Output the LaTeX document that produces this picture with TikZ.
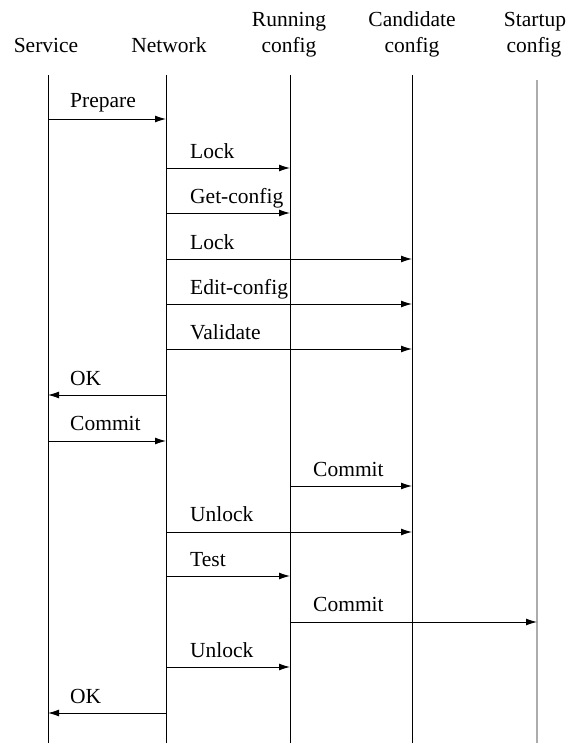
\documentclass[tikz,border=0pt]{standalone}
\usepackage{fontspec}
\setmainfont{Liberation Serif}
\usetikzlibrary{arrows.meta}
\begin{document}
\begin{tikzpicture}[x=1pt,y=-1pt,
  font=\fontsize{21.5}{26}\selectfont,
  lifeline/.style={line width=0.9pt,black},
  msgline/.style={line width=1pt,-{Latex[length=11pt,width=7pt]}},
  msglabel/.style={anchor=base west,inner sep=0pt},
  header/.style={anchor=base,inner sep=0pt,align=center}]
\useasboundingbox (0,0) rectangle (568,744);

% column headers
\node[header] (hsvc) at (46,52) {Service};
\node[header] (hnet) at (169,52) {Network};
\node[header] (hrun) at (289,52) {config};
\node[header] (hrun2) at (289,27) {Running};
\node[header] (hcand) at (412,52) {config};
\node[header] (hcand2) at (412,27) {Candidate};
\node[header] (hstart) at (534,52) {config};
\node[header] (hstart2) at (535,27) {Startup};

% lifelines
\coordinate (svcT) at (48,75);   \coordinate (svcB) at (48,743);
\coordinate (netT) at (166,75);  \coordinate (netB) at (166,743);
\coordinate (runT) at (290,75);  \coordinate (runB) at (290,743);
\coordinate (candT) at (412,75); \coordinate (candB) at (412,743);
\coordinate (stT) at (537,80);   \coordinate (stB) at (537,743);
\draw[lifeline] (svcT) -- (svcB);
\draw[lifeline] (netT) -- (netB);
\draw[lifeline] (runT) -- (runB);
\draw[lifeline] (candT) -- (candB);
\draw[line width=2.2pt,gray!65] (stT) -- (stB);

% messages
\draw[msgline] (svcT |- 0,119) -- (netT |- 0,119);
\node[msglabel] (l1) at (70,107) {Prepare};

\draw[msgline] (netT |- 0,168) -- (runT |- 0,168);
\node[msglabel] (l2) at (190,158) {Lock};

\draw[msgline] (netT |- 0,213) -- (runT |- 0,213);
\node[msglabel] (l3) at (190,203) {Get-config};

\draw[msgline] (netT |- 0,259) -- (candT |- 0,259);
\node[msglabel] (l4) at (190,249) {Lock};

\draw[msgline] (netT |- 0,304) -- (candT |- 0,304);
\node[msglabel] (l5) at (190,294) {Edit-config};

\draw[msgline] (netT |- 0,349) -- (candT |- 0,349);
\node[msglabel] (l6) at (190,339) {Validate};

\draw[msgline] (netT |- 0,395) -- (svcT |- 0,395);
\node[msglabel] (l7) at (70,385) {OK};

\draw[msgline] (svcT |- 0,441) -- (netT |- 0,441);
\node[msglabel] (l8) at (70,430) {Commit};

\draw[msgline] (runT |- 0,486) -- (candT |- 0,486);
\node[msglabel] (l9) at (313,476) {Commit};

\draw[msgline] (netT |- 0,532) -- (candT |- 0,532);
\node[msglabel] (l10) at (190,521) {Unlock};

\draw[msgline] (netT |- 0,576) -- (runT |- 0,576);
\node[msglabel] (l11) at (190,566) {Test};

\draw[msgline] (runT |- 0,622) -- (stT |- 0,622);
\node[msglabel] (l12) at (313,611) {Commit};

\draw[msgline] (netT |- 0,667) -- (runT |- 0,667);
\node[msglabel] (l13) at (190,657) {Unlock};

\draw[msgline] (netT |- 0,713) -- (svcT |- 0,713);
\node[msglabel] (l14) at (70,703) {OK};
\end{tikzpicture}
\end{document}
